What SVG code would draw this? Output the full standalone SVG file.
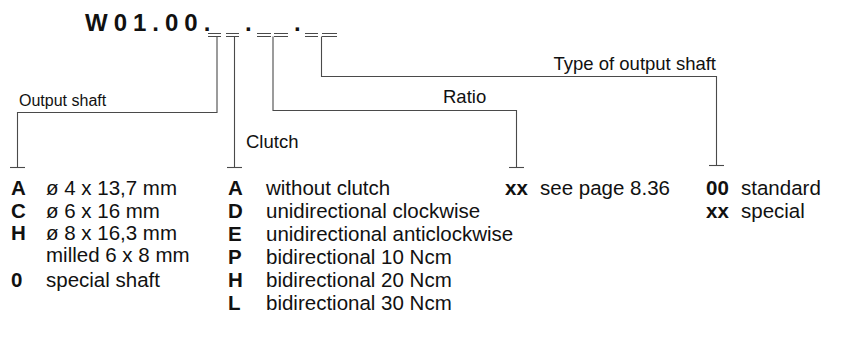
<svg xmlns="http://www.w3.org/2000/svg" width="843" height="349" viewBox="0 0 843 349">
<style>
text{font-family:"Liberation Sans",Arial,sans-serif;font-size:20.5px;fill:#111}
.lbl{font-size:18.5px}
.b{font-weight:bold}
.title{font-weight:bold;font-size:24px;letter-spacing:6px}
.ln{stroke:#4a4a4a;stroke-width:1.1;fill:none}
</style>
<rect width="843" height="349" fill="#fff"/>
<g id="code">
<text class="title" x="85" y="31">W01.00.</text>
<g class="ln">
<path d="M208 33.5h13M226 33.5h13M257 33.5h14M274 33.5h14M305 33.5h13M322 33.5h15"/>
<path d="M208 36.5h13M226 36.5h13M257 36.5h14M274 36.5h14M305 36.5h13M322 36.5h15"/>
</g>
<text class="title" x="245" y="31">.</text>
<text class="title" x="294" y="31">.</text>
</g>
<g id="connectors" class="ln">
<path d="M217 36.5V112.5H17.5V167"/>
<path d="M10 167.5h15"/>
<path d="M234.5 36.5V167"/>
<path d="M227 167.5h15"/>
<path d="M273 36.5V110.5H516.5V167"/>
<path d="M509 167.5h15"/>
<path d="M321.5 36.5V76.5H716.5V165"/>
<path d="M709 165.5h15"/>
</g>
<g id="output-shaft">
<text x="19" y="106" style="font-size:16px">Output shaft</text>
<text class="b" x="11" y="195">A</text><text x="46" y="195">ø 4 x 13,7 mm</text>
<text class="b" x="11" y="218">C</text><text x="46" y="218">ø 6 x 16 mm</text>
<text class="b" x="11" y="240">H</text><text x="46" y="240">ø 8 x 16,3 mm</text>
<text x="46" y="262">milled 6 x 8 mm</text>
<text class="b" x="11" y="287">0</text><text x="46" y="287">special shaft</text>
</g>
<g id="clutch">
<text class="lbl" x="246" y="148">Clutch</text>
<text class="b" x="228" y="195">A</text><text x="266" y="195">without clutch</text>
<text class="b" x="228" y="218">D</text><text x="266" y="218">unidirectional clockwise</text>
<text class="b" x="228" y="241">E</text><text x="266" y="241">unidirectional anticlockwise</text>
<text class="b" x="228" y="264">P</text><text x="266" y="264">bidirectional 10 Ncm</text>
<text class="b" x="228" y="287">H</text><text x="266" y="287">bidirectional 20 Ncm</text>
<text class="b" x="228" y="310">L</text><text x="266" y="310">bidirectional 30 Ncm</text>
</g>
<g id="ratio">
<text class="lbl" x="443" y="103">Ratio</text>
<text class="b" x="505" y="195">xx</text><text x="540" y="195">see page 8.36</text>
</g>
<g id="type-of-output-shaft">
<text class="lbl" x="716" y="70" text-anchor="end">Type of output shaft</text>
<text class="b" x="706" y="195">00</text><text x="741" y="195">standard</text>
<text class="b" x="706" y="218">xx</text><text x="741" y="218">special</text>
</g>
</svg>
